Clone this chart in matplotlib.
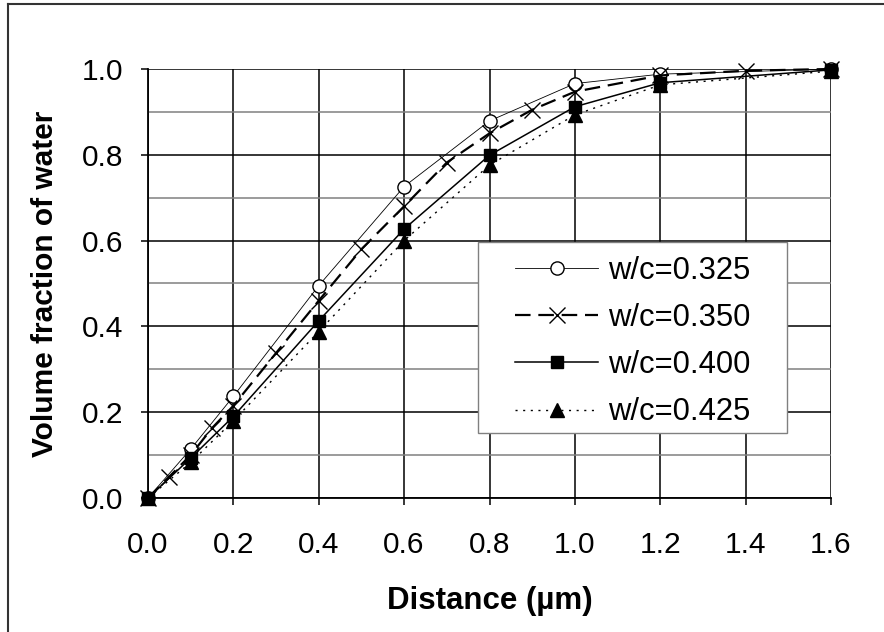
import matplotlib
matplotlib.use("Agg")
import matplotlib.pyplot as plt
from matplotlib.ticker import MultipleLocator
from matplotlib.lines import Line2D
from matplotlib.patches import Rectangle

plt.rcParams['font.family'] = ['Liberation Sans', 'DejaVu Sans']

# Data
x_325 = [0.0, 0.1, 0.2, 0.4, 0.6, 0.8, 1.0, 1.2, 1.6]
y_325 = [0.0, 0.114, 0.237, 0.495, 0.726, 0.879, 0.966, 0.988, 1.0]

x_350 = [0.0, 0.05, 0.1, 0.15, 0.2, 0.3, 0.4, 0.5, 0.6, 0.7, 0.8, 0.9, 1.0, 1.2, 1.4, 1.6]
y_350 = [0.0, 0.05, 0.10, 0.163, 0.215, 0.338, 0.46, 0.58, 0.68, 0.782, 0.85, 0.905, 0.947, 0.985, 0.996, 1.0]

x_400 = [0.0, 0.1, 0.2, 0.4, 0.6, 0.8, 1.0, 1.2, 1.6]
y_400 = [0.0, 0.093, 0.19, 0.413, 0.627, 0.799, 0.912, 0.968, 0.998]

x_425 = [0.0, 0.1, 0.2, 0.4, 0.6, 0.8, 1.0, 1.2, 1.6]
y_425 = [0.0, 0.083, 0.18, 0.388, 0.600, 0.776, 0.893, 0.963, 0.995]

labels = ['w/c=0.325', 'w/c=0.350', 'w/c=0.400', 'w/c=0.425']
x_ticks = [0.0, 0.2, 0.4, 0.6, 0.8, 1.0, 1.2, 1.4, 1.6]
y_ticks = [0.0, 0.2, 0.4, 0.6, 0.8, 1.0]

fig = plt.figure(figsize=(8.84, 6.32), dpi=100)
ax = fig.add_axes([148/884, 1-498/632, 683/884, 429/632])

ax.set_xlim(0, 1.6)
ax.set_ylim(0, 1.0)
ax.set_xticks(x_ticks)
ax.set_yticks(y_ticks)
ax.yaxis.set_minor_locator(MultipleLocator(0.1))
ax.set_xticklabels([f"{v:.1f}" for v in x_ticks])
ax.set_yticklabels([f"{v:.1f}" for v in y_ticks])

ax.grid(True, which='major', axis='both', color='black', linewidth=1.1)
ax.grid(True, which='minor', axis='y', color='#808080', linewidth=1.1)
ax.set_axisbelow(True)
ax.tick_params(axis='both', which='major', direction='out', length=5, width=1.1,
               labelsize=21.5, colors='black')
ax.tick_params(axis='x', which='major', pad=19)
ax.tick_params(axis='y', which='major', pad=13)
ax.tick_params(axis='y', which='minor', length=0)
for s in ['top', 'right']:
    ax.spines[s].set_visible(False)
for s in ['left', 'bottom']:
    ax.spines[s].set_linewidth(1.3)
    ax.spines[s].set_color('black')

ax.plot(x_325, y_325, color='black', linewidth=0.6, linestyle='-',
        marker='o', markersize=9.5, markerfacecolor='white', markeredgecolor='black',
        markeredgewidth=1.0, label=labels[0], clip_on=False, zorder=3)
ax.plot(x_350, y_350, color='black', linewidth=1.6, linestyle=(0, (7, 3.5)),
        marker='x', markersize=11.5, markeredgewidth=1.0, label=labels[1],
        clip_on=False, zorder=3)
ax.plot(x_400, y_400, color='black', linewidth=1.1, linestyle='-',
        marker='s', markersize=9, markerfacecolor='black', label=labels[2],
        clip_on=False, zorder=4)
ax.plot(x_425, y_425, color='black', linewidth=1.0, linestyle=(0, (1.5, 4)),
        marker='^', markersize=9.5, markerfacecolor='black', label=labels[3],
        clip_on=False, zorder=4)

ax.set_xlabel('Distance (µm)', fontsize=22.5, fontweight='bold', labelpad=19)
ax.set_ylabel('Volume fraction of water', fontsize=21.5, fontweight='bold', labelpad=16)

# legend box (drawn separately to match padding)
bx0, bx1 = (478-148)/683, (787-148)/683
by0, by1 = (498-433)/429, (498-242)/429
ax.add_patch(Rectangle((bx0, by0), bx1-bx0, by1-by0, transform=ax.transAxes,
                       facecolor='white', edgecolor='#808080', linewidth=1.0,
                       zorder=5, clip_on=False))
leg = ax.legend(loc='center', bbox_to_anchor=((bx0+bx1)/2, (by0+by1)/2 - 0.01), fontsize=22.3,
                frameon=False, handlelength=2.7, handletextpad=0.3, labelspacing=0.55,
                borderpad=0.2, borderaxespad=0)
leg.set_zorder(6)

# figure border (top and left visible)
fig.add_artist(Line2D([8/884, 1.0], [1-4/632, 1-4/632], color='#333333', linewidth=1.5,
                      transform=fig.transFigure))
fig.add_artist(Line2D([8/884, 8/884], [0.0, 1-4/632], color='#333333', linewidth=1.5,
                      transform=fig.transFigure))

fig.savefig('out.png', dpi=100)
